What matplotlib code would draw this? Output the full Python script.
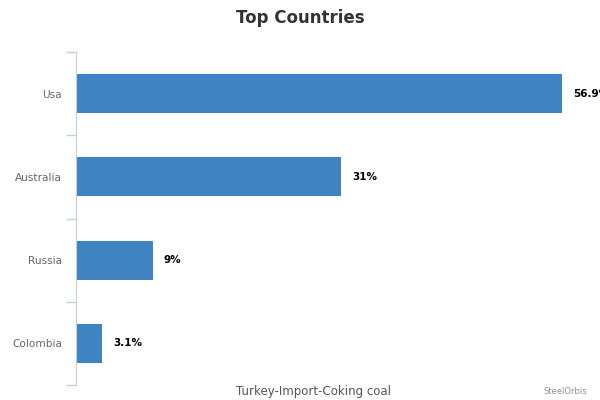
import matplotlib
matplotlib.use("Agg")
import matplotlib.pyplot as plt
import numpy as np

# data
countries = ["Usa", "Australia", "Russia", "Colombia"]
shares = [56.9, 31, 9, 3.1]
labels = ["56.9%", "31%", "9%", "3.1%"]

BAR_COLOR = "#4083c3"
AXIS_COLOR = "#c0d0e0"

fig = plt.figure(figsize=(6, 4), dpi=100)
ax = fig.add_axes([76 / 600, 15 / 400, 524 / 600, 333 / 400])

y = np.arange(len(countries))
ax.barh(y, shares, height=0.47, color=BAR_COLOR, zorder=2)
ax.set_ylim(len(countries) - 0.5, -0.5)
ax.set_xlim(0, 524 / 8.54)

# value labels (the Usa one runs off the right edge, as in the original)
for yi, v, lab in zip(y, shares, labels):
    ax.annotate(lab, (v, yi), xytext=(8, 0), textcoords="offset points",
                va="center", ha="left", fontsize=7.5, fontweight="bold",
                color="#000000", annotation_clip=False, clip_on=False)

# axes styling
for side in ["top", "right", "bottom"]:
    ax.spines[side].set_visible(False)
ax.spines["left"].set_color(AXIS_COLOR)
ax.set_xticks([])
ax.set_yticks(y)
ax.set_yticklabels(countries, color="#666666", fontsize=7.6)
ax.tick_params(axis="y", length=0, pad=10)
ax.set_yticks(np.arange(len(countries) + 1) - 0.5, minor=True)
ax.tick_params(axis="y", which="minor", length=7.2, width=1, color=AXIS_COLOR)

fig.text(0.5, 1 - 18 / 400, "Top Countries", ha="center", va="center",
         fontsize=12, fontweight="bold", color="#333333")
fig.text(314 / 600, 1 - 392 / 400, "Turkey-Import-Coking coal", ha="center",
         va="center", fontsize=8.5, color="#555555")
fig.text(565 / 600, 1 - 392 / 400, "SteelOrbis", ha="center", va="center",
         fontsize=6, color="#909090")

fig.savefig("out.png", dpi=100)
